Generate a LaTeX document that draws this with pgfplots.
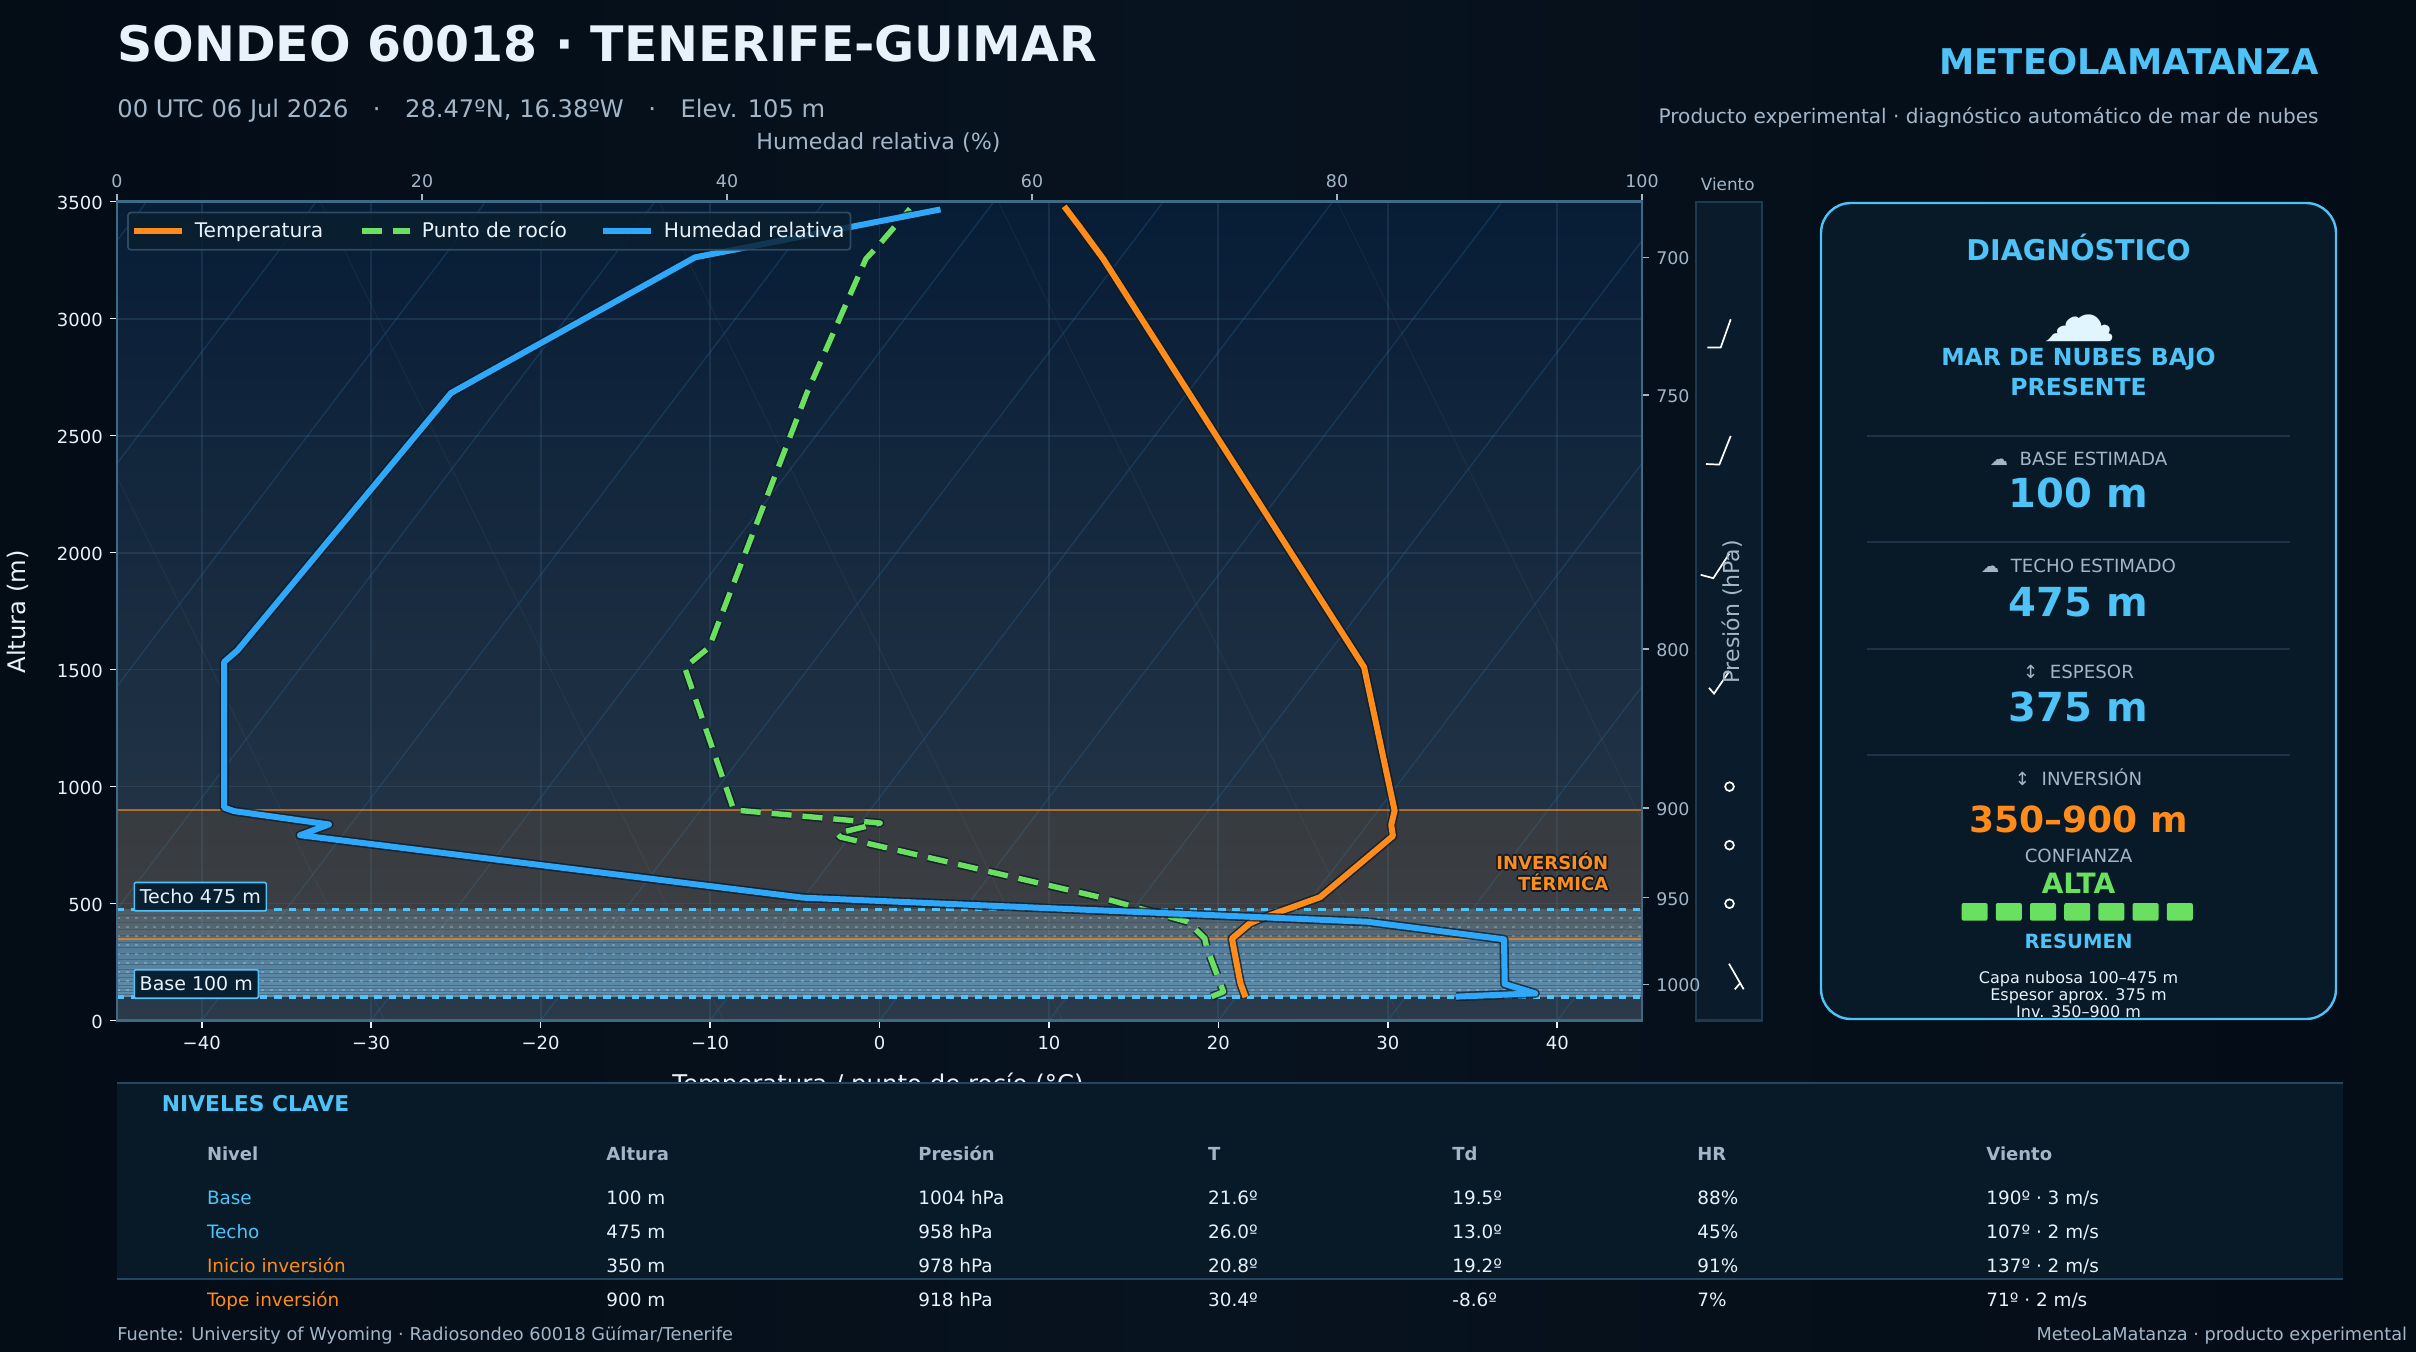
\documentclass[border=0pt]{standalone}
\usepackage{fontspec}
\setmainfont{DejaVu Sans}
\usepackage{pgfplots}
\pgfplotsset{compat=1.18}
\definecolor{bgE}{HTML}{040C16}
\definecolor{bgM}{HTML}{07131F}
\definecolor{panel}{HTML}{081927}
\definecolor{cyanT}{HTML}{4FC3F7}
\definecolor{orangeT}{HTML}{FF8C1A}
\definecolor{greenT}{HTML}{6AE060}
\definecolor{blueT}{HTML}{2EA8FA}
\definecolor{muted}{HTML}{A3B6C8}
\definecolor{white2}{HTML}{E8F2FA}
\definecolor{halo}{HTML}{0C1A28}
\definecolor{spine}{HTML}{3F6A85}
\definecolor{gridc}{HTML}{4A7494}
\definecolor{skewc}{HTML}{2A6A9E}
\definecolor{antic}{HTML}{7C93A8}
\definecolor{cloudc}{HTML}{85C8F0}
\definecolor{divc}{HTML}{1E3446}
\definecolor{axtop}{HTML}{071D36}
\definecolor{axmid}{HTML}{172F45}
\definecolor{axbot}{HTML}{2A3A4A}
\definecolor{stripec}{HTML}{28465C}
\definecolor{legfill}{HTML}{0A1E2E}
\definecolor{legdraw}{HTML}{2C4A62}
\definecolor{windfill}{HTML}{0A1C2C}
\definecolor{winddraw}{HTML}{1E3A50}
\definecolor{labfill}{HTML}{092032}
\definecolor{cloudw}{HTML}{E1F5FE}
\definecolor{tabline}{HTML}{24465F}
\newcommand\fs[1]{\fontsize{#1}{#1}\selectfont}
\newcommand\TL[4][]{\node[anchor=mid west,inner sep=0pt,#1] at (#2,#3) {#4};}
\newcommand\TC[4][]{\node[anchor=mid,inner sep=0pt,#1] at (#2,#3) {#4};}
\newcommand\TR[4][]{\node[anchor=mid east,inner sep=0pt,#1] at (#2,#3) {#4};}
\newcommand\skewl[2]{\addplot[forget plot,skewc,opacity=.3,line width=.65pt] coordinates {(#1,0)(#2,3500)};}
\newcommand\antil[2]{\addplot[forget plot,antic,opacity=.09,line width=.5pt] coordinates {(#1,0)(#2,3500)};}
\newcommand\strip[3]{\addplot[forget plot,draw=none,fill=cloudc,fill opacity=#3] coordinates {(-45,#1)(45,#1)(45,#2)(-45,#2)} -- cycle;}
\newcommand\HaloTR[3]{%
 \foreach \dx/\dy in {-1.6/0,1.6/0,0/-1.6,0/1.6,-1.2/-1.2,1.2/1.2,-1.2/1.2,1.2/-1.2}{%
  \node[anchor=mid east,inner sep=0pt,font=\fs{9}\bfseries,text=halo] at ({#1+\dx},{#2+\dy}) {#3};}
 \node[anchor=mid east,inner sep=0pt,font=\fs{9}\bfseries,text=orangeT] at (#1,#2) {#3};}
\pgfplotsset{
 legend image code/.code={\draw[#1,color=halo,opacity=.75,line width=4.4pt] (0pt,0pt)--(24pt,0pt);\draw[#1] (0pt,0pt)--(24pt,0pt);},
}
\begin{document}
\begin{tikzpicture}
\path[use as bounding box,left color=bgE,right color=bgE,middle color=bgM] (0,0) rectangle (1208pt,-676pt);
% ---------- wind strip
\begin{axis}[at={(847.85pt,-510.25pt)},anchor=south west,scale only axis,width=33.15pt,height=409.4pt,
 xmin=1695.7,xmax=1762,ymin=201.7,ymax=1020.5,y dir=reverse,
 xtick=\empty,ytick=\empty,
 axis line style={winddraw,line width=1.1pt},
 axis background/.style={fill=windfill},clip=false]
\addplot[white,line width=.85pt] coordinates {(1707.3,347.5)(1720.7,347.5)(1730.7,319.3)};
\addplot[white,line width=.85pt] coordinates {(1706,464)(1719.3,464.6)(1730.7,435.9)};
\addplot[white,line width=.85pt] coordinates {(1700.7,574.8)(1713.3,578.2)(1729.3,553.6)};
\addplot[white,line width=.85pt] coordinates {(1709,687.9)(1714,693.6)(1729.3,671.2)};
\addplot[white,line width=.85pt] coordinates {(1729,963.7)(1743.7,989.3)};
\addplot[white,line width=.85pt] coordinates {(1740,983.3)(1734.8,989.3)};
\addplot[only marks,mark=*,mark size=2.2pt,mark options={draw=white,fill=windfill,line width=.85pt}] coordinates {(1729.5,786.6)(1729.5,845.2)(1729.5,903.7)};
\end{axis}
% ---------- main axis: temperature
\begin{axis}[at={(58.5pt,-510.25pt)},anchor=south west,scale only axis,width=762.5pt,height=409.4pt,
 xmin=-45,xmax=45,ymin=0,ymax=3500,
 axis background/.style={shade,top color=axtop,middle color=axmid,bottom color=axbot},
 xtick={-40,-30,-20,-10,0,10,20,30,40},
 xticklabels={−40,−30,−20,−10,0,10,20,30,40},
 ytick={0,500,1000,1500,2000,2500,3000,3500},
 yticklabels={0,500,1000,1500,2000,2500,3000,3500},
 xtick pos=lower,ytick pos=left,
 tick align=outside,major tick length=3.6pt,
 tick style={white2,line width=.8pt},
 axis line style={spine,line width=1.2pt},
 ticklabel style={font=\fs{9},text=white2},
 xticklabel style={yshift=-.6pt},yticklabel style={yshift=-.5pt},
 grid=major,grid style={gridc,opacity=.22,line width=.9pt},
 clip=true]
% skew lines
\skewl{-80}{-43.25}\skewl{-70}{-33.25}\skewl{-60}{-23.25}\skewl{-50}{-13.25}\skewl{-40}{-3.25}\skewl{-30}{6.75}\skewl{-20}{16.75}\skewl{-10}{26.75}\skewl{0}{36.75}\skewl{10}{46.75}\skewl{20}{56.75}\skewl{30}{66.75}\skewl{40}{76.75}
\antil{-29.2}{-53}\antil{-9.2}{-33}\antil{10.8}{-13}\antil{30.8}{7}\antil{50.8}{27}
% cloud layer
\strip{100}{125}{.59}\strip{125}{150}{.58}\strip{150}{175}{.57}\strip{175}{200}{.55}\strip{200}{225}{.54}\strip{225}{250}{.52}\strip{250}{275}{.51}\strip{275}{300}{.49}\strip{300}{325}{.48}\strip{325}{350}{.46}\strip{350}{375}{.33}\strip{375}{400}{.31}\strip{400}{425}{.29}\strip{425}{450}{.27}\strip{450}{475}{.24}
% inversion
\addplot[forget plot,draw=none,fill=orangeT,fill opacity=.1] coordinates {(-45,350)(45,350)(45,900)(-45,900)} -- cycle;
% cloud stripes
\pgfplotsinvokeforeach{112,124,136,150,165,182,200,220,240,262,285,310,335,362,390,420,448}{
 \addplot[forget plot,stripec,opacity=.42,line width=.5pt] coordinates {(-45,#1)(45,#1)};}
\pgfplotsinvokeforeach{130,168.5,207,245.5,284,322.5,361,399.5,438}{
 \addplot[forget plot,white,opacity=.22,line width=1.2pt,dash pattern=on 1.4pt off 3.1pt] coordinates {(-45,#1)(45,#1)};}
% level lines
\addplot[forget plot,orangeT,opacity=.62,line width=1pt] coordinates {(-45,900)(45,900)};
\addplot[forget plot,orangeT,opacity=.68,line width=1.1pt] coordinates {(-45,350)(45,350)};
\addplot[forget plot,cyanT,line width=1.7pt,dash pattern=on 3.7pt off 3.45pt] coordinates {(-45,100)(45,100)};
\addplot[forget plot,cyanT,line width=1.7pt,dash pattern=on 3.7pt off 3.45pt] coordinates {(-45,475)(45,475)};
% temperature
\addplot[forget plot,halo,opacity=.75,line width=4.6pt,line join=round] table {
T h
21.6 100
21.3 159
20.8 350
21.85 415
22.4 433
26.0 527
28.5 679
30.3 789
30.2 836
30.4 897
28.6 1510
13.2 3256
11.8 3394
10.9 3480
};
\addplot[forget plot,orangeT,line width=3pt,line join=round] table {
T h
21.6 100
21.3 159
20.8 350
21.85 415
22.4 433
26.0 527
28.5 679
30.3 789
30.2 836
30.4 897
28.6 1510
13.2 3256
11.8 3394
10.9 3480
};
% dew point
\addplot[forget plot,halo,opacity=.75,line width=4.3pt,line join=round,dash pattern=on 10pt off 5.5pt] table {
T h
19.6 102
20.3 123
19.3 315
19.2 350
18.2 422
13.0 527
-2.3 784
-2.5 800
0.04 844
-8.6 900
-11.5 1509
-10.06 1595
-4.3 2680
-0.8 3256
0.05 3322
1.8 3470
};
\addplot[forget plot,greenT,line width=2.7pt,line join=round,dash pattern=on 10pt off 5.5pt] table {
T h
19.6 102
20.3 123
19.3 315
19.2 350
18.2 422
13.0 527
-2.3 784
-2.5 800
0.04 844
-8.6 900
-11.5 1509
-10.06 1595
-4.3 2680
-0.8 3256
0.05 3322
1.8 3470
};
\end{axis}
% ---------- RH + pressure axis
\begin{axis}[at={(58.5pt,-510.25pt)},anchor=south west,scale only axis,width=762.5pt,height=409.4pt,
 xmin=0,xmax=100,ymin=0,ymax=3500,
 xtick={0,20,40,60,80,100},xticklabels={0,20,40,60,80,100},
 ytick={154,525,908,1587,2674,3262},yticklabels={1000,950,900,800,750,700},
 xtick pos=upper,ytick pos=right,xticklabel pos=upper,yticklabel pos=right,
 tick align=outside,major tick length=3.6pt,
 tick style={muted,line width=.8pt},
 axis line style={spine,line width=1.2pt},
 ticklabel style={font=\fs{8.7},text=muted},
 yticklabel style={yshift=-.5pt},
 legend columns=3,
 legend cell align=left,
 legend style={at={(.0066,.9878)},anchor=north west,font=\fs{10.1},text=white2,
  fill=legfill,fill opacity=.82,draw opacity=1,text opacity=1,
  draw=legdraw,line width=.9pt,rounded corners=1.5pt,
  inner xsep=1pt,inner ysep=2.5pt,
  /tikz/column 1/.style={column sep=2pt},
  /tikz/column 3/.style={column sep=2pt},
  /tikz/column 5/.style={column sep=2pt},
  /tikz/column 2/.style={column sep=15pt},
  /tikz/column 4/.style={column sep=14pt}},
 clip=true]
\addlegendimage{orangeT,line width=3pt}\addlegendentry{Temperatura}
\addlegendimage{greenT,line width=2.7pt,dash pattern=on 10pt off 5.5pt}\addlegendentry{Punto de rocío}
\addlegendimage{blueT,line width=3pt}\addlegendentry{Humedad relativa}
\addplot[forget plot,halo,opacity=.75,line width=4.6pt,line join=round] table {
RH h
87.8 102
93.0 116
91.0 156
90.95 347
82.0 422
45.0 525
12.0 792
13.9 838
7.67 895
7.03 910
7.03 1370
7.03 1533
7.9 1582
21.9 2682
37.9 3262
54.0 3467
};
\addplot[forget plot,blueT,line width=3pt,line join=round] table {
RH h
87.8 102
93.0 116
91.0 156
90.95 347
82.0 422
45.0 525
12.0 792
13.9 838
7.67 895
7.03 910
7.03 1370
7.03 1533
7.9 1582
21.9 2682
37.9 3262
54.0 3467
};
\end{axis}
\begin{scope}[x=.5pt,y=-.5pt]
\TC[font=\fs{8.4},text=muted]{1727.7}{185}{Viento}
\TC[font=\fs{11},text=muted,rotate=90]{1734}{612}{Presión (hPa)}
% axis titles
\TC[font=\fs{11.1},text=muted]{878.5}{144}{Humedad relativa (\%)}
\TC[font=\fs{12.1},text=white2,rotate=90]{20}{612}{Altura (m)}
\TC[font=\fs{12.2},text=white2]{878}{1087}{Temperatura / punto de rocío (°C)}
% labels in chart
\node[anchor=north west,draw=cyanT,fill=labfill,line width=.8pt,minimum width=66pt,minimum height=14.2pt,inner sep=0pt,font=\fs{9.5},text=white2,rounded corners=.6pt] at (133.5,881.7) {Techo 475 m};
\node[anchor=north west,draw=cyanT,fill=labfill,line width=.8pt,minimum width=62pt,minimum height=14.2pt,inner sep=0pt,font=\fs{9.5},text=white2,rounded corners=.6pt] at (133.5,969) {Base 100 m};
\HaloTR{1608.7}{864}{INVERSIÓN}
\HaloTR{1608.7}{885}{TÉRMICA}
% headers
\TL[font=\fs{24.46}\bfseries,text=white2]{117}{56}{SONDEO 60018 · TENERIFE-GUIMAR}
\TL[font=\fs{12.1},text=muted]{117}{112}{00 UTC 06 Jul 2026 \ \ \hspace{.7pt}·\hspace{.7pt} \ \ 28.47ºN, 16.38ºW \ \ \hspace{.7pt}·\hspace{.7pt} \ \ Elev. 105 m}
\TR[font=\fs{17.7}\bfseries,text=cyanT]{2319}{69}{METEOLAMATANZA}
\TR[font=\fs{10.04},text=muted]{2319}{118.5}{Producto experimental · diagnóstico automático de mar de nubes}
% diagnostic panel
\draw[cyanT,fill=panel,line width=1.2pt,rounded corners=15pt] (1821,203) rectangle (2336,1019);
\TC[font=\fs{14.3}\bfseries,text=cyanT]{2078.5}{255}{DIAGNÓSTICO}
\TC[font=\fs{37},text=cloudw]{2079}{336}{☁}
\TC[font=\fs{11.76}\bfseries,text=cyanT]{2078.5}{360}{MAR DE NUBES BAJO}
\TC[font=\fs{11.76}\bfseries,text=cyanT]{2078.5}{390}{PRESENTE}
\foreach \yy in {435.7,541.7,649,755} {\draw[divc,line width=.9pt] (1867,\yy)--(2290,\yy);}
\TC[font=\fs{9.1},text=muted]{2078.5}{460.5}{☁\ \ BASE ESTIMADA}
\TC[font=\fs{20}\bfseries,text=cyanT]{2078.5}{502.5}{100 m}
\TC[font=\fs{9.1},text=muted]{2078.5}{567}{☁\ \ TECHO ESTIMADO}
\TC[font=\fs{20}\bfseries,text=cyanT]{2078.5}{611}{475 m}
\TC[font=\fs{9.1},text=muted]{2078.5}{673}{↕\ \ ESPESOR}
\TC[font=\fs{20}\bfseries,text=cyanT]{2078.5}{716}{375 m}
\TC[font=\fs{9.1},text=muted]{2078.5}{779.8}{↕\ \ INVERSIÓN}
\TC[font=\fs{18}\bfseries,text=orangeT]{2078.5}{827}{350–900 m}
\TC[font=\fs{9.1},text=muted]{2078.5}{857}{CONFIANZA}
\TC[font=\fs{14}\bfseries,text=greenT]{2078.5}{888}{ALTA}
\foreach \xx in {1961.6,1995.8,2030,2064.2,2098.4,2132.6,2166.8} {\fill[greenT,rounded corners=1pt] (\xx,903) rectangle (\xx+26,920.7);}
\TC[font=\fs{9.8}\bfseries,text=cyanT]{2078.5}{943.5}{RESUMEN}
\TC[font=\fs{8},text=white2]{2078.5}{978.5}{Capa nubosa 100–475 m}
\TC[font=\fs{8},text=white2]{2078.5}{995.5}{Espesor aprox. 375 m}
\TC[font=\fs{8},text=white2]{2078.5}{1012}{Inv. 350–900 m}
% table panel
\fill[panel] (117,1082.7) rectangle (2343,1279);
\draw[tabline,line width=1pt] (117,1082.7)--(2343,1082.7);
\draw[tabline,line width=1pt] (117,1279)--(2343,1279);
\TL[font=\fs{10.9}\bfseries,text=cyanT]{161.5}{1106}{NIVELES CLAVE}
\foreach \xx/\hh in {206.6/Nivel,606/Altura,918/Presión,1207.8/T,1452/Td,1697/HR,1986/Viento} {\TL[font=\fs{9}\bfseries,text=muted]{\xx}{1155}{\hh}}
\foreach \yy/\aa/\bb/\cc/\dd/\ee/\ff/\gg/\col in {
 1199.5/Base/100 m/1004 hPa/21.6º/19.5º/88\%/190º · 3 m\slash s/cyanT,
 1233.3/Techo/475 m/958 hPa/26.0º/13.0º/45\%/107º · 2 m\slash s/cyanT,
 1267.3/Inicio inversión/350 m/978 hPa/20.8º/19.2º/91\%/137º · 2 m\slash s/orangeT,
 1301/Tope inversión/900 m/918 hPa/30.4º/-8.6º/7\%/71º · 2 m\slash s/orangeT} {
 \TL[font=\fs{9.2},text=\col]{206.6}{\yy}{\aa}
 \TL[font=\fs{9.2},text=white2]{606}{\yy}{\bb}
 \TL[font=\fs{9.2},text=white2]{918}{\yy}{\cc}
 \TL[font=\fs{9.2},text=white2]{1207.8}{\yy}{\dd}
 \TL[font=\fs{9.2},text=white2]{1452}{\yy}{\ee}
 \TL[font=\fs{9.2},text=white2]{1697}{\yy}{\ff}
 \TL[font=\fs{9.2},text=white2]{1986}{\yy}{\gg}
}
\TL[font=\fs{8.87},text=muted]{117}{1335.5}{Fuente: University of Wyoming · Radiosondeo 60018 Güímar/Tenerife}
\TR[font=\fs{8.87},text=muted]{2407.5}{1335.5}{MeteoLaMatanza · producto experimental}
\end{scope}
\end{tikzpicture}
\end{document}
